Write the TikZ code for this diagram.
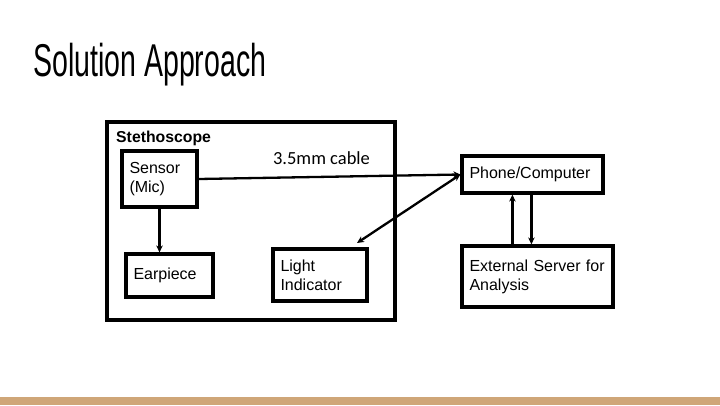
\documentclass[tikz,border=0pt]{standalone}
\usepackage{fontspec}
\setmainfont{Liberation Sans}
\newfontfamily\titlefont[FakeStretch=0.62]{Liberation Sans}
\newfontfamily\cablefont{Carlito}
\usetikzlibrary{arrows.meta,calc}
\definecolor{barc}{HTML}{CFA678}
\begin{document}
\begin{tikzpicture}[x=1pt,y=-1pt,
  box/.style={draw=black,line width=3.2pt,rectangle,inner xsep=7.5pt,inner ysep=0pt,align=left,font=\fontsize{16}{19}\selectfont},
  arr/.style={draw=black,line width=2.3pt,-{Stealth[length=7pt,width=6.5pt]}},
  darr/.style={draw=black,line width=2.3pt,{Stealth[length=7pt,width=6.5pt]}-{Stealth[length=7pt,width=6.5pt]}}]
\useasboundingbox (0,0) rectangle (720,405);
\fill[barc] (0,397) rectangle (720,405);
\node[anchor=base west,inner sep=0pt,font=\titlefont\fontsize{46}{50}\selectfont] (title) at (33,76) {Solution Approach};
% stethoscope container
\node[draw=black,line width=3.2pt,minimum width=288pt,minimum height=198pt,inner sep=0pt] (steth) at (251,221) {};
\node[anchor=west,inner sep=0pt,font=\bfseries\fontsize{15.8}{18}\selectfont] (stethlabel) at (116,138.5) {Stethoscope};
% boxes
\node[box,minimum width=75pt,minimum height=56pt,text width=60pt] (sensor) at (159.5,179) {Sensor\\(Mic)};
\node[box,minimum width=87pt,minimum height=43pt,text width=72pt] (earp) at (169.5,275.5) {Earpiece};
\node[box,minimum width=94pt,minimum height=52pt,text width=79pt] (light) at (320,275) {Light\\Indicator};
\node[box,minimum width=141pt,minimum height=37pt,text width=126pt] (phone) at (532.5,174.5) {Phone/Computer};
\node[box,minimum width=151pt,minimum height=61pt,text width=136pt] (server) at (537.5,276.5) {External Server for\\Analysis};
\node[anchor=center,inner sep=0pt,font=\cablefont\fontsize{18.5}{22}\selectfont] (cable) at (321.5,158) {3.5mm cable};
% connectors
\coordinate (lt) at (357,243);
\draw[arr] (sensor.east) -- (phone.west);
\draw[darr] (phone.west) -- (lt);
\draw[arr] (sensor.south) -- (sensor.south |- earp.north);
\draw[arr] ($(server.north west)+(52,0)$) -- ($(phone.south west)+(52,0)$);
\draw[arr] ($(phone.south west)+(71,0)$) -- ($(server.north west)+(71,0)$);
\end{tikzpicture}
\end{document}
